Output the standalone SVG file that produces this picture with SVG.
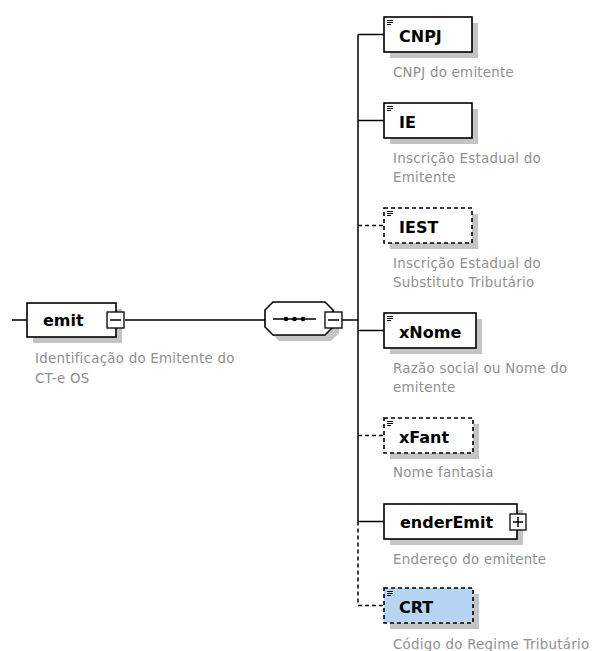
<svg xmlns="http://www.w3.org/2000/svg" width="595" height="651" viewBox="0 0 595 651">
<style>
.bg{fill:#fff}
.box{fill:#fff;stroke:#000;stroke-width:1.6}
.dbox{fill:#fff;stroke:#000;stroke-width:1.6;stroke-dasharray:4,3}
.crt{fill:#b7d4f2;stroke:#000;stroke-width:1.6;stroke-dasharray:4,3}
.sh{fill:#c4c4c4}
.lbl{font-family:"DejaVu Sans",sans-serif;font-weight:bold;font-size:16px;fill:#000}
.desc{font-family:"DejaVu Sans",sans-serif;font-size:13.4px;letter-spacing:0.25px;fill:#909090}
.ln{stroke:#000;stroke-width:1.5;fill:none}
.dl{stroke:#000;stroke-width:1.5;fill:none;stroke-dasharray:4,3}
.ic{stroke:#000;stroke-width:1}
.pm{fill:#fff;stroke:#000;stroke-width:1.3}
</style>
<defs>
<g id="icon"><line class="ic" x1="0" y1="0.5" x2="6" y2="0.5"/><line class="ic" x1="0" y1="2.5" x2="6" y2="2.5"/><line class="ic" x1="0" y1="4.5" x2="4" y2="4.5"/></g>
</defs>
<rect class="bg" x="0" y="0" width="595" height="651"/>
<g id="connectors">
<line class="ln" x1="12" y1="320" x2="27" y2="320"/>
<line class="ln" x1="125" y1="320" x2="265" y2="320"/>
<line class="ln" x1="342" y1="320" x2="358" y2="320"/>
<line class="ln" x1="358" y1="34.5" x2="358" y2="521.5"/>
<line class="dl" x1="358" y1="521.5" x2="358" y2="605.5"/>
<line class="ln" x1="358" y1="34.5" x2="384" y2="34.5"/>
<line class="ln" x1="358" y1="120.5" x2="384" y2="120.5"/>
<line class="dl" x1="358" y1="225.5" x2="384" y2="225.5"/>
<line class="ln" x1="358" y1="330.5" x2="384" y2="330.5"/>
<line class="dl" x1="358" y1="435.5" x2="384" y2="435.5"/>
<line class="ln" x1="358" y1="521.5" x2="384" y2="521.5"/>
<line class="dl" x1="358" y1="605.5" x2="384" y2="605.5"/>
</g>
<g id="emit">
<rect class="sh" x="33" y="309" width="89" height="34"/>
<rect class="box" x="27" y="303" width="89" height="34"/>
<text class="lbl" x="43" y="326">emit</text>
<rect class="pm" x="107" y="312" width="17" height="16"/>
<line class="ln" x1="110" y1="320" x2="121" y2="320"/>
<text class="desc" x="35" y="363">Identificação do Emitente do</text>
<text class="desc" x="35" y="383">CT-e OS</text>
</g>
<g id="sequence">
<path class="sh" d="M279 308 H331 L339 316 V333 L331 341 H279 L271 333 V316 Z"/>
<path class="box" d="M273 302 H325 L333 310 V327 L325 335 H273 L265 327 V310 Z"/>
<line class="ln" x1="273" y1="319" x2="316" y2="319"/>
<circle cx="286" cy="319" r="2.3"/>
<circle cx="294.5" cy="319" r="2.3"/>
<circle cx="303" cy="319" r="2.3"/>
<rect class="pm" x="325" y="312" width="17" height="16"/>
<line class="ln" x1="328" y1="320" x2="339" y2="320"/>
</g>
<g id="CNPJ">
<rect class="sh" x="390" y="23" width="88" height="35"/>
<rect class="box" x="384" y="17" width="88" height="35"/>
<use href="#icon" x="387" y="20"/>
<text class="lbl" x="399" y="42">CNPJ</text>
<text class="desc" x="393" y="77">CNPJ do emitente</text>
</g>
<g id="IE">
<rect class="sh" x="390" y="109" width="88" height="35"/>
<rect class="box" x="384" y="103" width="88" height="35"/>
<use href="#icon" x="387" y="106"/>
<text class="lbl" x="399" y="128">IE</text>
<text class="desc" x="393" y="163">Inscrição Estadual do</text>
<text class="desc" x="393" y="182">Emitente</text>
</g>
<g id="IEST">
<rect class="sh" x="390" y="214" width="88" height="35"/>
<rect class="dbox" x="384" y="208" width="88" height="35"/>
<use href="#icon" x="387" y="211"/>
<text class="lbl" x="399" y="233">IEST</text>
<text class="desc" x="393" y="268">Inscrição Estadual do</text>
<text class="desc" x="393" y="287">Substituto Tributário</text>
</g>
<g id="xNome">
<rect class="sh" x="390" y="319" width="92" height="35"/>
<rect class="box" x="384" y="313" width="92" height="35"/>
<use href="#icon" x="387" y="316"/>
<text class="lbl" x="399" y="338">xNome</text>
<text class="desc" x="393" y="373">Razão social ou Nome do</text>
<text class="desc" x="393" y="392">emitente</text>
</g>
<g id="xFant">
<rect class="sh" x="390" y="424" width="89" height="35"/>
<rect class="dbox" x="384" y="418" width="89" height="35"/>
<use href="#icon" x="387" y="421"/>
<text class="lbl" x="399" y="443">xFant</text>
<text class="desc" x="393" y="477">Nome fantasia</text>
</g>
<g id="enderEmit">
<rect class="sh" x="390" y="510" width="133" height="35"/>
<rect class="box" x="384" y="504" width="133" height="35"/>
<text class="lbl" x="400" y="528">enderEmit</text>
<rect class="pm" x="510" y="514" width="16" height="16"/>
<line class="ln" x1="513" y1="522" x2="523" y2="522"/>
<line class="ln" x1="518" y1="517" x2="518" y2="527"/>
<text class="desc" x="393" y="564">Endereço do emitente</text>
</g>
<g id="CRT">
<rect class="sh" x="390" y="594" width="89" height="35"/>
<rect class="crt" x="384" y="588" width="89" height="35"/>
<use href="#icon" x="387" y="591"/>
<text class="lbl" x="399" y="613">CRT</text>
<text class="desc" x="393" y="649">Código do Regime Tributário</text>
</g>
</svg>
